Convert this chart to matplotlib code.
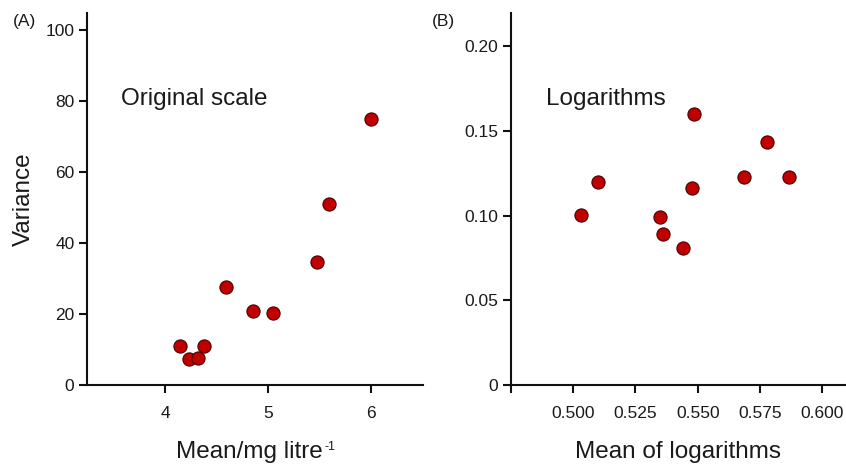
import numpy as np
import matplotlib.pyplot as plt

plt.rcParams['font.family'] = ['Liberation Sans', 'DejaVu Sans']

# (A) original scale
mean_orig = [4.14, 4.23, 4.32, 4.38, 4.585, 4.85, 5.05, 5.47, 5.59, 6.00]
var_orig = [11.0, 7.2, 7.7, 11.0, 27.5, 20.9, 20.2, 34.6, 51.0, 75.0]

# (B) logarithms
mean_log = [0.503, 0.510, 0.535, 0.536, 0.544, 0.5476, 0.5486, 0.5686, 0.5777, 0.5865]
var_log = [0.1004, 0.1198, 0.0990, 0.0890, 0.0811, 0.1165, 0.1602, 0.1230, 0.1435, 0.1230]

a_xticks = [4, 5, 6]
a_yticks = [0, 20, 40, 60, 80, 100]
b_xticks = [0.475, 0.500, 0.525, 0.550, 0.575, 0.600]
b_xlabels = ['', '0.500', '0.525', '0.550', '0.575', '0.600']
b_yticks = [0, 0.05, 0.10, 0.15, 0.20]
b_ylabels = ['0', '0.05', '0.10', '0.15', '0.20']

fig = plt.figure(figsize=(8.46, 4.68), dpi=100)
axA = fig.add_axes([0.1028, 0.1774, 0.397, 0.795])
axB = fig.add_axes([0.604, 0.1774, 0.395, 0.795])

text_col = '#1a1a1a'
for ax in (axA, axB):
    for side in ('top', 'right'):
        ax.spines[side].set_visible(False)
    for side in ('left', 'bottom'):
        ax.spines[side].set_linewidth(1.5)
        ax.spines[side].set_color('#111111')
    ax.tick_params(axis='both', direction='out', length=6, width=1.5,
                   color='#111111', labelsize=12.5, labelcolor=text_col)
    ax.tick_params(axis='x', pad=9)
    ax.tick_params(axis='y', pad=3)

axA.scatter(mean_orig, var_orig, s=90, color='#c00000', edgecolor='#4a0000',
            linewidth=0.8, zorder=3, clip_on=False)
axA.set_xlim(3.24, 6.5)
axA.set_ylim(0, 104.8)
axA.set_xticks(a_xticks)
axA.set_yticks(a_yticks)
xlab = axA.set_xlabel('Mean/mg litre', fontsize=17.5, color=text_col, va='top')
axA.xaxis.set_label_coords(0.485, -0.15)
axA.annotate('-1', xy=(1, 1), xycoords=xlab, xytext=(1, 0),
             textcoords='offset points', fontsize=9, color=text_col,
             ha='left', va='top')
axA.set_ylabel('Variance', fontsize=17.5, color=text_col, va='center')
axA.yaxis.set_label_coords(-0.1875, 0.5)
axA.text(0.101, 0.753, 'Original scale', transform=axA.transAxes,
         fontsize=17.5, color=text_col, va='baseline')

axB.scatter(mean_log, var_log, s=90, color='#c00000', edgecolor='#4a0000',
            linewidth=0.8, zorder=3, clip_on=False)
axB.set_xlim(0.475, 0.6092)
axB.set_ylim(0, 0.2196)
axB.set_xticks(b_xticks, b_xlabels)
axB.set_yticks(b_yticks, b_ylabels)
axB.set_xlabel('Mean of logarithms', fontsize=17.5, color=text_col, va='top')
axB.xaxis.set_label_coords(0.5, -0.15)
axB.text(0.104, 0.753, 'Logarithms', transform=axB.transAxes,
         fontsize=17.5, color=text_col, va='baseline')

fig.text(0.0154, 0.954, '(A)', fontsize=12.5, color=text_col, va='center')
fig.text(0.5106, 0.954, '(B)', fontsize=12.5, color=text_col, va='center')

fig.savefig('out.png', dpi=100, facecolor='white')
